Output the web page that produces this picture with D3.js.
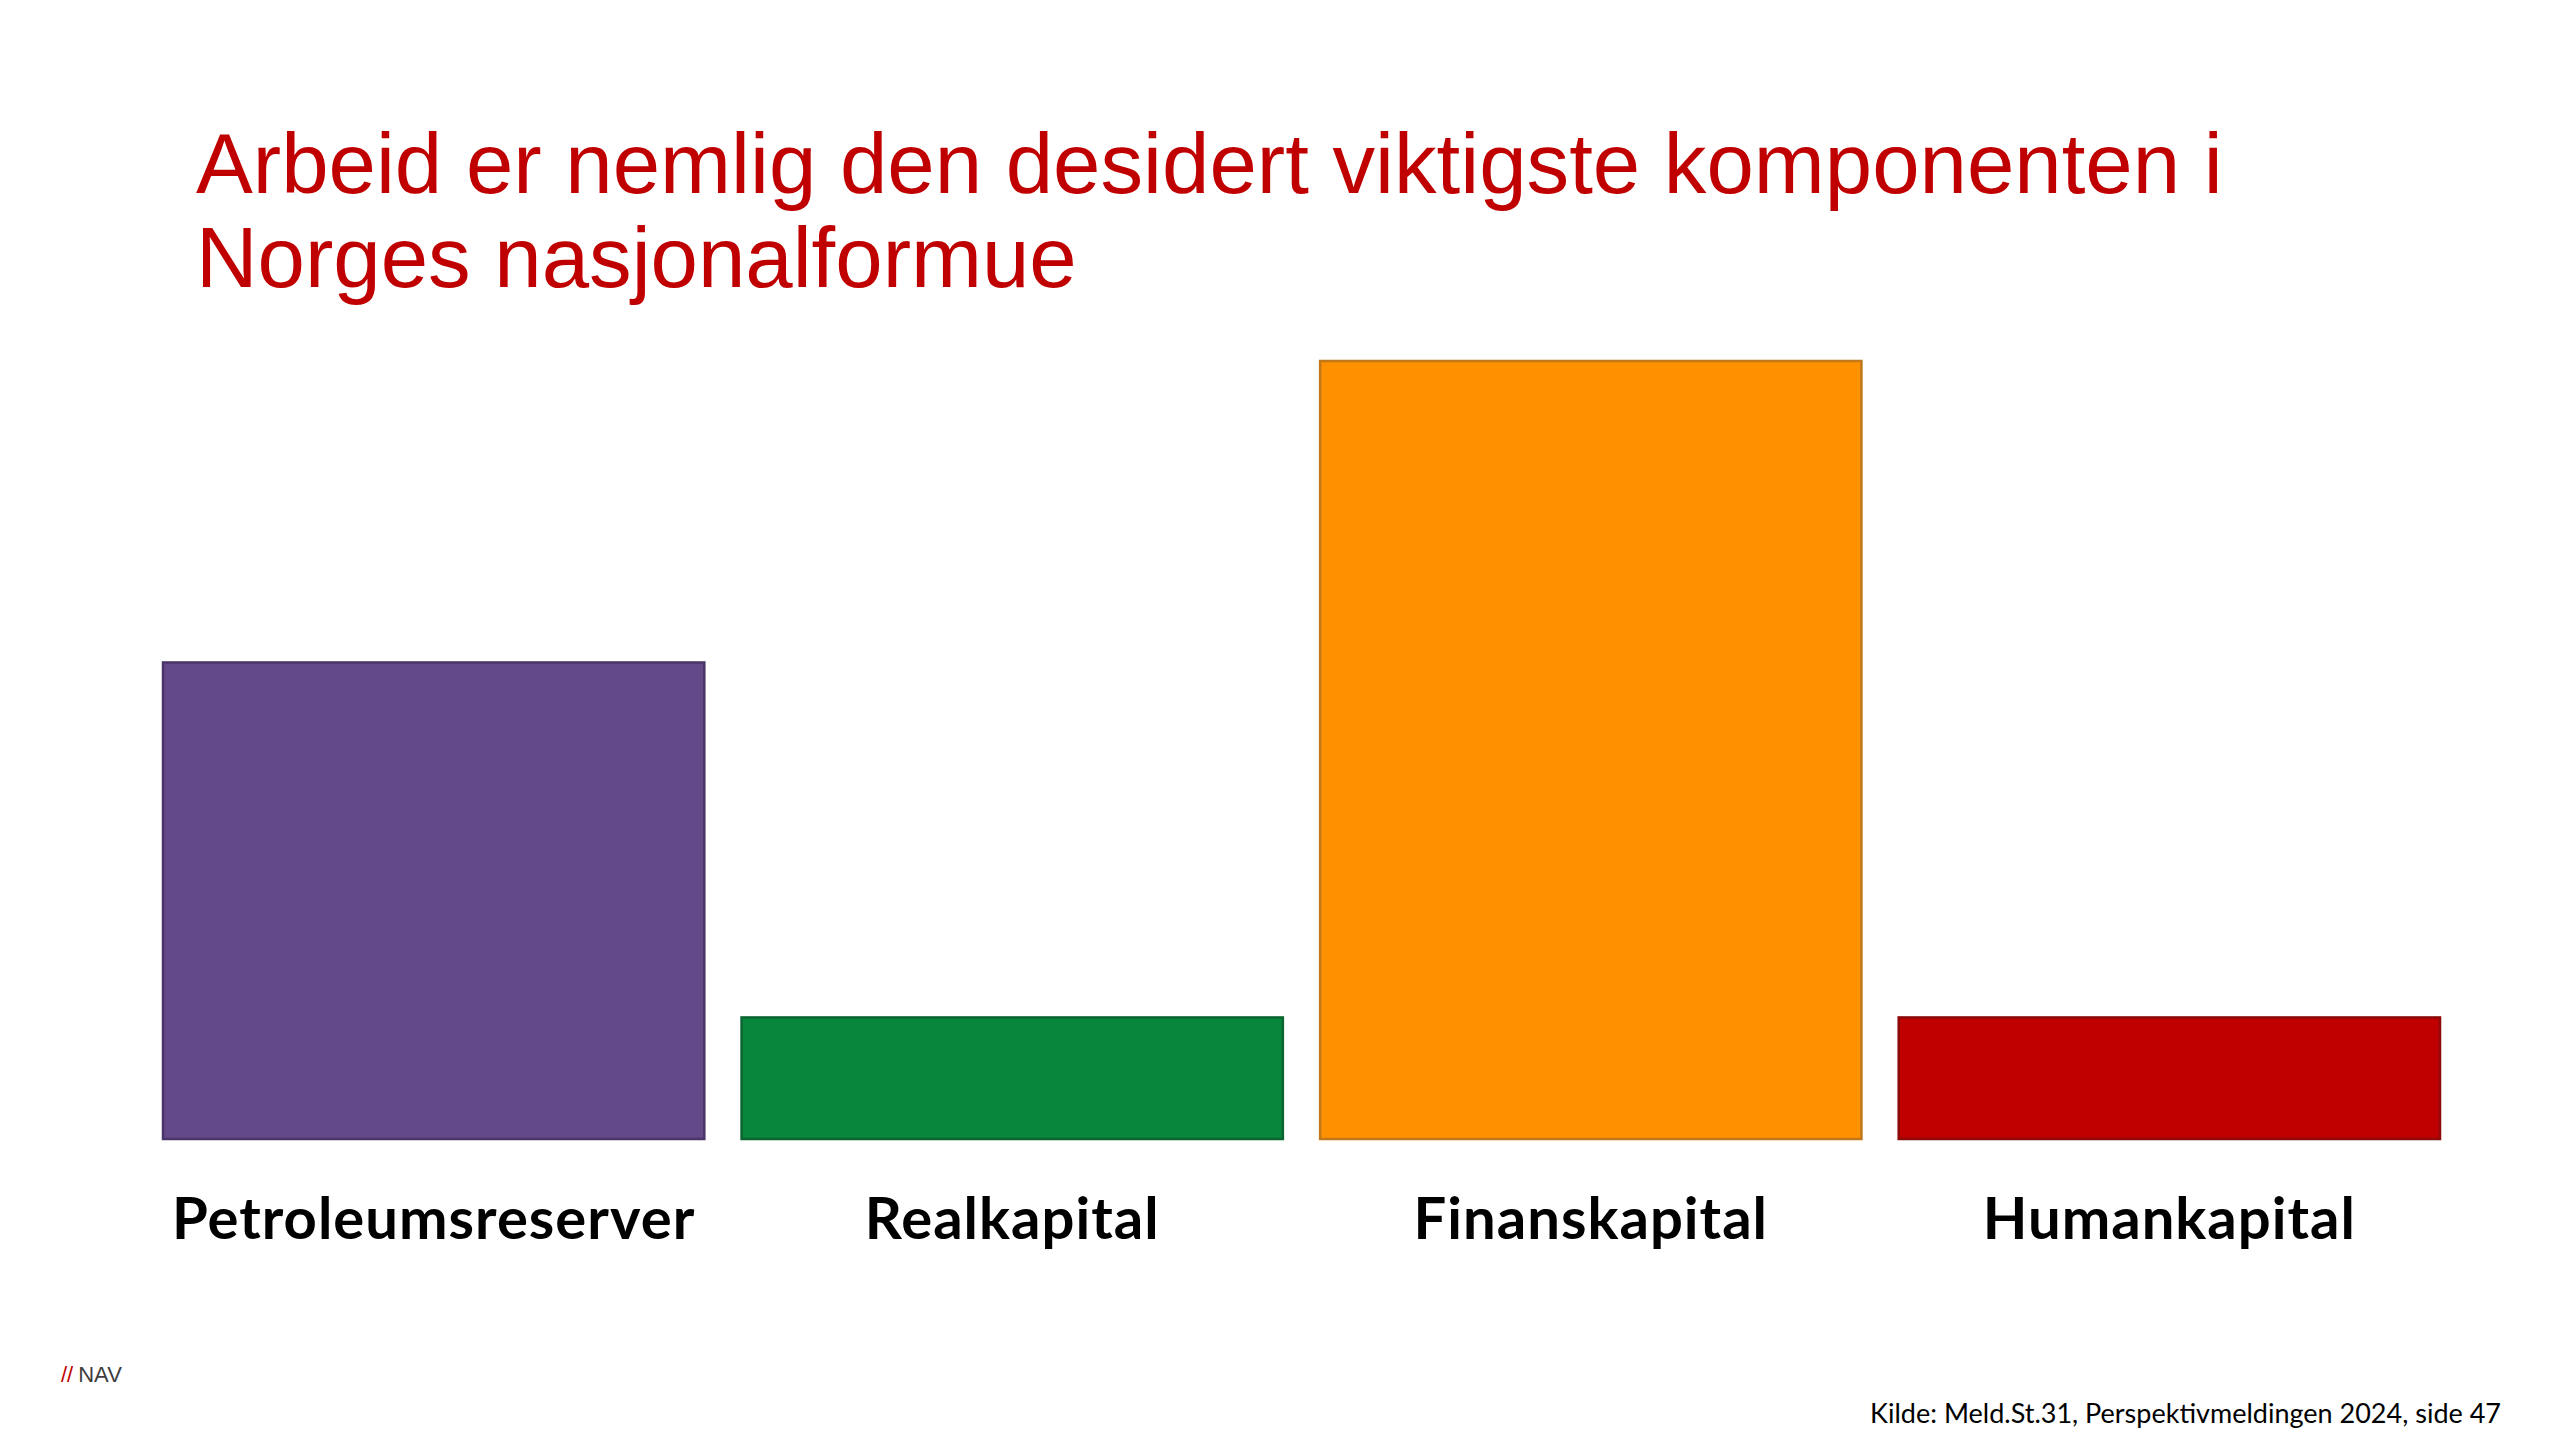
<!DOCTYPE html>
<html>
<head>
<meta charset="utf-8">
<script src="https://cdn.jsdelivr.net/npm/d3@7"></script>
<style>
  html, body { margin: 0; padding: 0; background: #ffffff; }
  svg { display: block; }
</style>
</head>
<body>
<svg id="chart" width="2560" height="1440"></svg>
<script>
// ---- data ----
const titleLines = ["Arbeid er nemlig den desidert viktigste komponenten i", "Norges nasjonalformue"];
const categories = ["Petroleumsreserver", "Realkapital", "Finanskapital", "Humankapital"];
const values = [3.92, 1.0, 6.4, 1.0];
const fillColors = ["#644989", "#08873C", "#FF9100", "#C00000"];
const strokeColors = ["#4A3568", "#0B6530", "#C0781A", "#8C0A0A"];
const sourceText = "Kilde: Meld.St.31, Perspektivmeldingen 2024, side 47";
const logoMark = "//";
const logoText = "NAV";

// ---- layout ----
const W = 2560, H = 1440;
const plot = { left: 163, right: 2440, top: 361, bottom: 1139 };

const svg = d3.select("#chart");

const x = d3.scaleBand()
  .domain(categories)
  .range([plot.left, plot.right])
  .paddingInner(0.0644)
  .paddingOuter(0);

const y = d3.scaleLinear()
  .domain([0, d3.max(values)])
  .range([plot.bottom, plot.top]);

// title
const title = svg.append("text")
  .attr("x", 196)
  .attr("y", 193)
  .attr("font-family", "'Liberation Sans', Arial, sans-serif")
  .attr("font-size", 85.2)
  .attr("fill", "#C00000");
title.selectAll("tspan")
  .data(titleLines)
  .join("tspan")
  .attr("x", 196)
  .attr("dy", (d, i) => i === 0 ? 0 : 94)
  .text(d => d);

// bars
const data = categories.map((c, i) => ({ c, v: values[i], fill: fillColors[i], stroke: strokeColors[i] }));
svg.append("g")
  .selectAll("rect")
  .data(data)
  .join("rect")
  .attr("x", d => x(d.c))
  .attr("y", d => y(d.v))
  .attr("width", x.bandwidth())
  .attr("height", d => y(0) - y(d.v))
  .attr("fill", d => d.fill)
  .attr("stroke", d => d.stroke)
  .attr("stroke-width", 2.5);

// category axis (labels only)
const xAxis = d3.axisBottom(x).tickSize(0).tickPadding(0);
const gx = svg.append("g")
  .attr("transform", `translate(0, ${plot.bottom})`)
  .call(xAxis);
gx.select(".domain").remove();
gx.selectAll("text")
  .attr("dy", 0)
  .attr("y", 100)
  .attr("font-family", "Lato, 'Open Sans', sans-serif")
  .attr("font-weight", "bold")
  .attr("font-size", 58)
  .attr("letter-spacing", 1)
  .attr("fill", "#000000");

// footer: logo
const logo = svg.append("text")
  .attr("x", 61)
  .attr("y", 1382)
  .attr("font-family", "'Liberation Sans', Arial, sans-serif")
  .attr("font-size", 22);
logo.append("tspan").attr("fill", "#C30000").text(logoMark);
logo.append("tspan").attr("fill", "#3E3E3E").attr("dx", 5).text(logoText);

// footer: source
svg.append("text")
  .attr("x", 2501)
  .attr("y", 1423)
  .attr("text-anchor", "end")
  .attr("font-family", "Lato, 'Open Sans', sans-serif")
  .attr("font-size", 27)
  .attr("fill", "#000000")
  .text(sourceText);
</script>
</body>
</html>
